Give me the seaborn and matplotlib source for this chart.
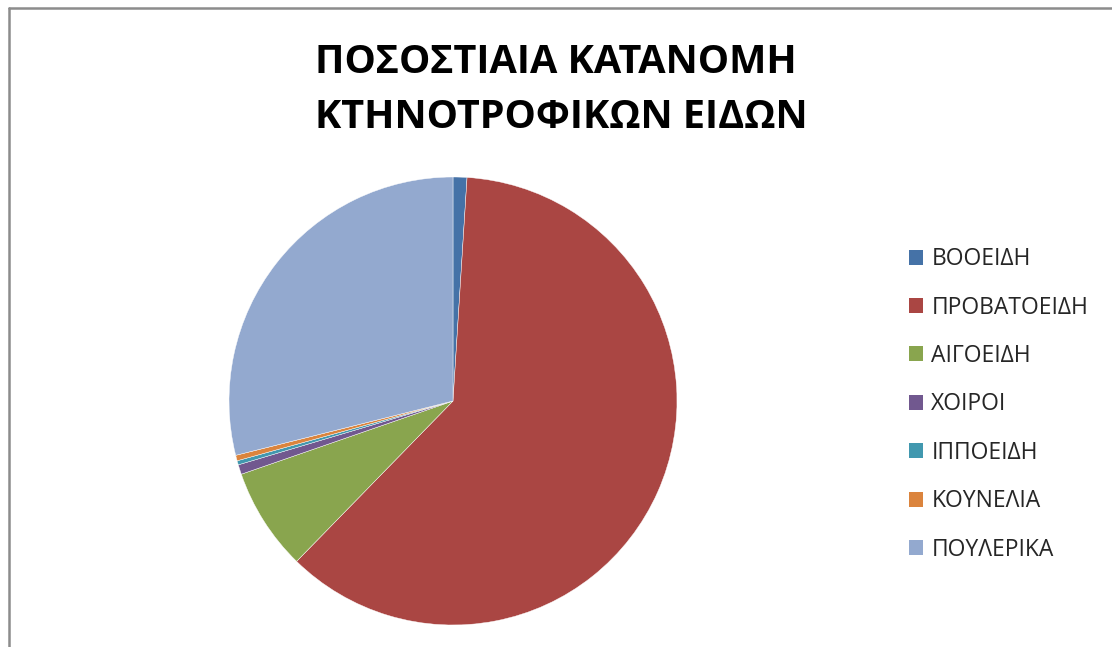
import matplotlib
matplotlib.use("Agg")
import matplotlib.pyplot as plt
import matplotlib.patches as mpatches
from matplotlib.lines import Line2D
import seaborn as sns

# data (percent of total livestock)
categories = ["ΒΟΟΕΙΔΗ", "ΠΡΟΒΑΤΟΕΙΔΗ", "ΑΙΓΟΕΙΔΗ", "ΧΟΙΡΟΙ",
              "ΙΠΠΟΕΙΔΗ", "ΚΟΥΝΕΛΙΑ", "ΠΟΥΛΕΡΙΚΑ"]
shares = [1.0, 61.3, 7.4, 0.7, 0.3, 0.4, 28.9]
title_lines = ["ΠΟΣΟΣΤΙΑΙΑ ΚΑΤΑΝΟΜΗ", "ΚΤΗΝΟΤΡΟΦΙΚΩΝ ΕΙΔΩΝ"]

colors = ["#4572A7", "#AA4643", "#89A54E", "#71588F",
          "#4198AF", "#DB843D", "#93A9CF"]

sns.set_theme(style="white")
plt.rcParams["font.family"] = ["Open Sans", "DejaVu Sans"]

W, H = 1112, 647
fig = plt.figure(figsize=(W / 100, H / 100), dpi=100)
fig.patch.set_facecolor("white")

# pie axes: centre (453, 401), radius 224 px
cx, cy, r = 453, 401, 224
ax = fig.add_axes([(cx - r) / W, (H - cy - r) / H, 2 * r / W, 2 * r / H])
wedges, _ = ax.pie(shares, colors=colors, startangle=90, counterclock=False,
                   wedgeprops={"linewidth": 0.3, "edgecolor": "white"})
ax.set_xlim(-1, 1)
ax.set_ylim(-1, 1)
ax.set_aspect("equal")
ax.axis("off")

# title, two centred bold lines
fig.text(556 / W, 1 - 73 / H, title_lines[0], ha="center", va="baseline",
         fontsize=28.5, fontweight="bold", color="black")
fig.text(561 / W, 1 - 128 / H, title_lines[1], ha="center", va="baseline",
         fontsize=28.5, fontweight="bold", color="black")

handles = [mpatches.Patch(facecolor=c, edgecolor="none", label=l)
           for c, l in zip(colors, categories)]
fig.legend(handles=handles, loc="upper left",
           bbox_to_anchor=(900 / W, 1 - 238 / H), frameon=False,
           fontsize=16.5, handlelength=0.62, handleheight=0.62,
           handletextpad=0.35, labelspacing=1.065, borderaxespad=0)

# chart frame (top and left edges visible)
fig.add_artist(Line2D([8.5 / W, 1], [1 - 7.5 / H, 1 - 7.5 / H],
                      transform=fig.transFigure, color="#8c8c8c", lw=1.8))
fig.add_artist(Line2D([8.5 / W, 8.5 / W], [0, 1 - 7.5 / H],
                      transform=fig.transFigure, color="#8c8c8c", lw=1.8))

plt.savefig("out.png", dpi=100)
plt.close()
